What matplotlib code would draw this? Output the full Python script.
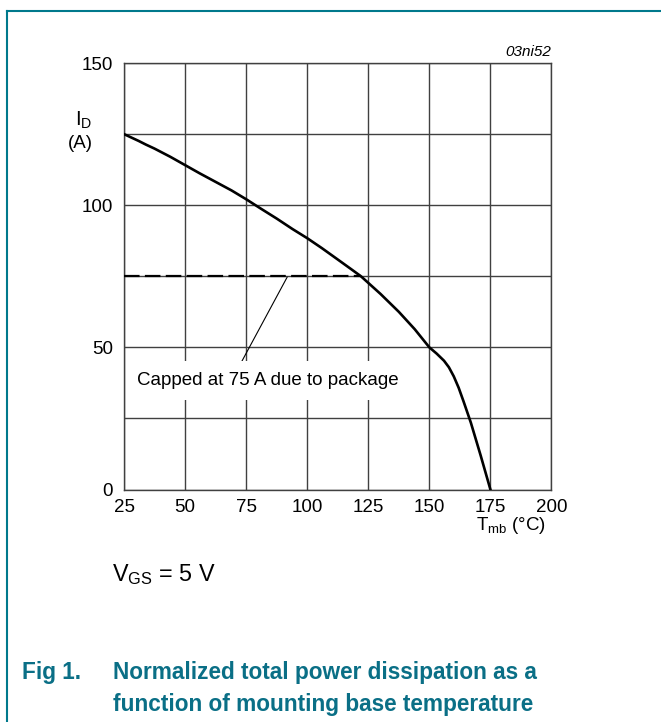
#!/usr/bin/env python3
"""
Drain current derating curve vs. mounting base temperature (datasheet Fig 1).
"""

import matplotlib

matplotlib.use("Agg")
import matplotlib.pyplot as plt

plt.rcParams["font.family"] = ["Liberation Sans", "DejaVu Sans"]
plt.rcParams["mathtext.fontset"] = "custom"
plt.rcParams["mathtext.rm"] = "Liberation Sans"
plt.rcParams["mathtext.it"] = "Liberation Sans:italic"

# Curve
temp_mb = [25, 28, 31, 34, 37.5, 44, 50, 56, 62.5, 69, 75, 81, 87.5, 94, 100,
           106, 112.5, 118, 122, 130, 137.5, 144, 150, 153, 156, 158, 160,
           162, 164, 167, 171, 175]
current_d = [125, 123.8, 122.6, 121.3, 119.9, 117.0, 114.1, 111.2, 108.2,
             105.2, 102.1, 98.8, 95.3, 91.6, 88.4, 84.9, 80.9, 77.5, 75,
             68.8, 62.5, 56.4, 50, 47.8, 45.3, 43, 39.8, 35.8, 31, 23.5, 12, 0]

# Package limit
cap_temp = [25, 122]
cap_current = [75, 75]

x_ticks = [25, 50, 75, 100, 125, 150, 175, 200]
y_ticks = [0, 50, 100, 150]
y_grid = [25, 75, 125]

TEAL = "#00798c"
CAPTION = "#0a6f86"
GRID = "#404040"


def main():
    fig = plt.figure(figsize=(6.61, 7.22), dpi=100)
    ax = fig.add_axes([0.1876, 0.3220, 0.6467, 0.5907])

    # grid (major + the in-between horizontal lines)
    ax.set_xlim(25, 200)
    ax.set_ylim(0, 150)
    ax.set_xticks(x_ticks)
    ax.set_yticks(y_ticks)
    ax.set_yticks(y_grid, minor=True)
    ax.grid(True, which="both", color=GRID, linewidth=1.0, zorder=0.5)
    ax.tick_params(which="both", length=0, labelsize=13.5, colors="black")
    ax.tick_params(axis="y", pad=8)
    ax.tick_params(axis="x", pad=7)
    for sp in ax.spines.values():
        sp.set_color(GRID)
        sp.set_linewidth(1.0)

    # curves
    ax.plot(cap_temp, cap_current, color="black", linewidth=1.6,
            dashes=(7, 2.4), zorder=3)
    ax.plot(temp_mb, current_d, color="black", linewidth=1.9, zorder=4,
            solid_joinstyle="round")

    # annotation
    ax.annotate("", xy=(91.8, 74.7), xytext=(71.3, 42.0),
                arrowprops=dict(arrowstyle="-", color="black", lw=0.8,
                                shrinkA=0, shrinkB=0), zorder=3)
    ax.text(30.3, 38.2, "Capped at 75 A due to package", fontsize=13.5,
            ha="left", va="center", zorder=3,
            bbox=dict(facecolor="white", edgecolor="none", pad=8))

    # axis labels
    fig.text(84 / 661, 1 - 120 / 722, r"$\mathrm{I_D}$", fontsize=14.5,
             ha="center", va="center")
    fig.text(80 / 661, 1 - 143 / 722, "(A)", fontsize=13.5,
             ha="center", va="center")
    fig.text(511 / 661, 1 - 525 / 722, r"$\mathrm{T_{mb}}$ (°C)", fontsize=13.5,
             ha="center", va="center")
    fig.text(551 / 661, 1 - 52 / 722, "03ni52", fontsize=11, style="italic",
             ha="right", va="center")

    fig.text(112 / 661, 1 - 575 / 722, r"$\mathrm{V_{GS}}$ = 5 V", fontsize=16.8,
             ha="left", va="center")

    # caption
    cap_kw = dict(fontsize=16.3, weight="bold", color=CAPTION, ha="left",
                  va="center")
    fig.text(22 / 661, 1 - 673 / 722, "Fig 1.", **cap_kw)
    fig.text(113 / 661, 1 - 673 / 722, "Normalized total power dissipation as a",
             **cap_kw)
    fig.text(113 / 661, 1 - 705 / 722, "function of mounting base temperature",
             **cap_kw)

    # frame lines (top and left only)
    fig.add_artist(plt.Line2D([7.3 / 661, 1.0], [1 - 10.5 / 722] * 2,
                              color=TEAL, linewidth=1.5))
    fig.add_artist(plt.Line2D([7.3 / 661] * 2, [0.0, 1 - 10.5 / 722],
                              color=TEAL, linewidth=1.5))

    fig.savefig("out.png", dpi=100)
    plt.close(fig)


if __name__ == "__main__":
    main()
